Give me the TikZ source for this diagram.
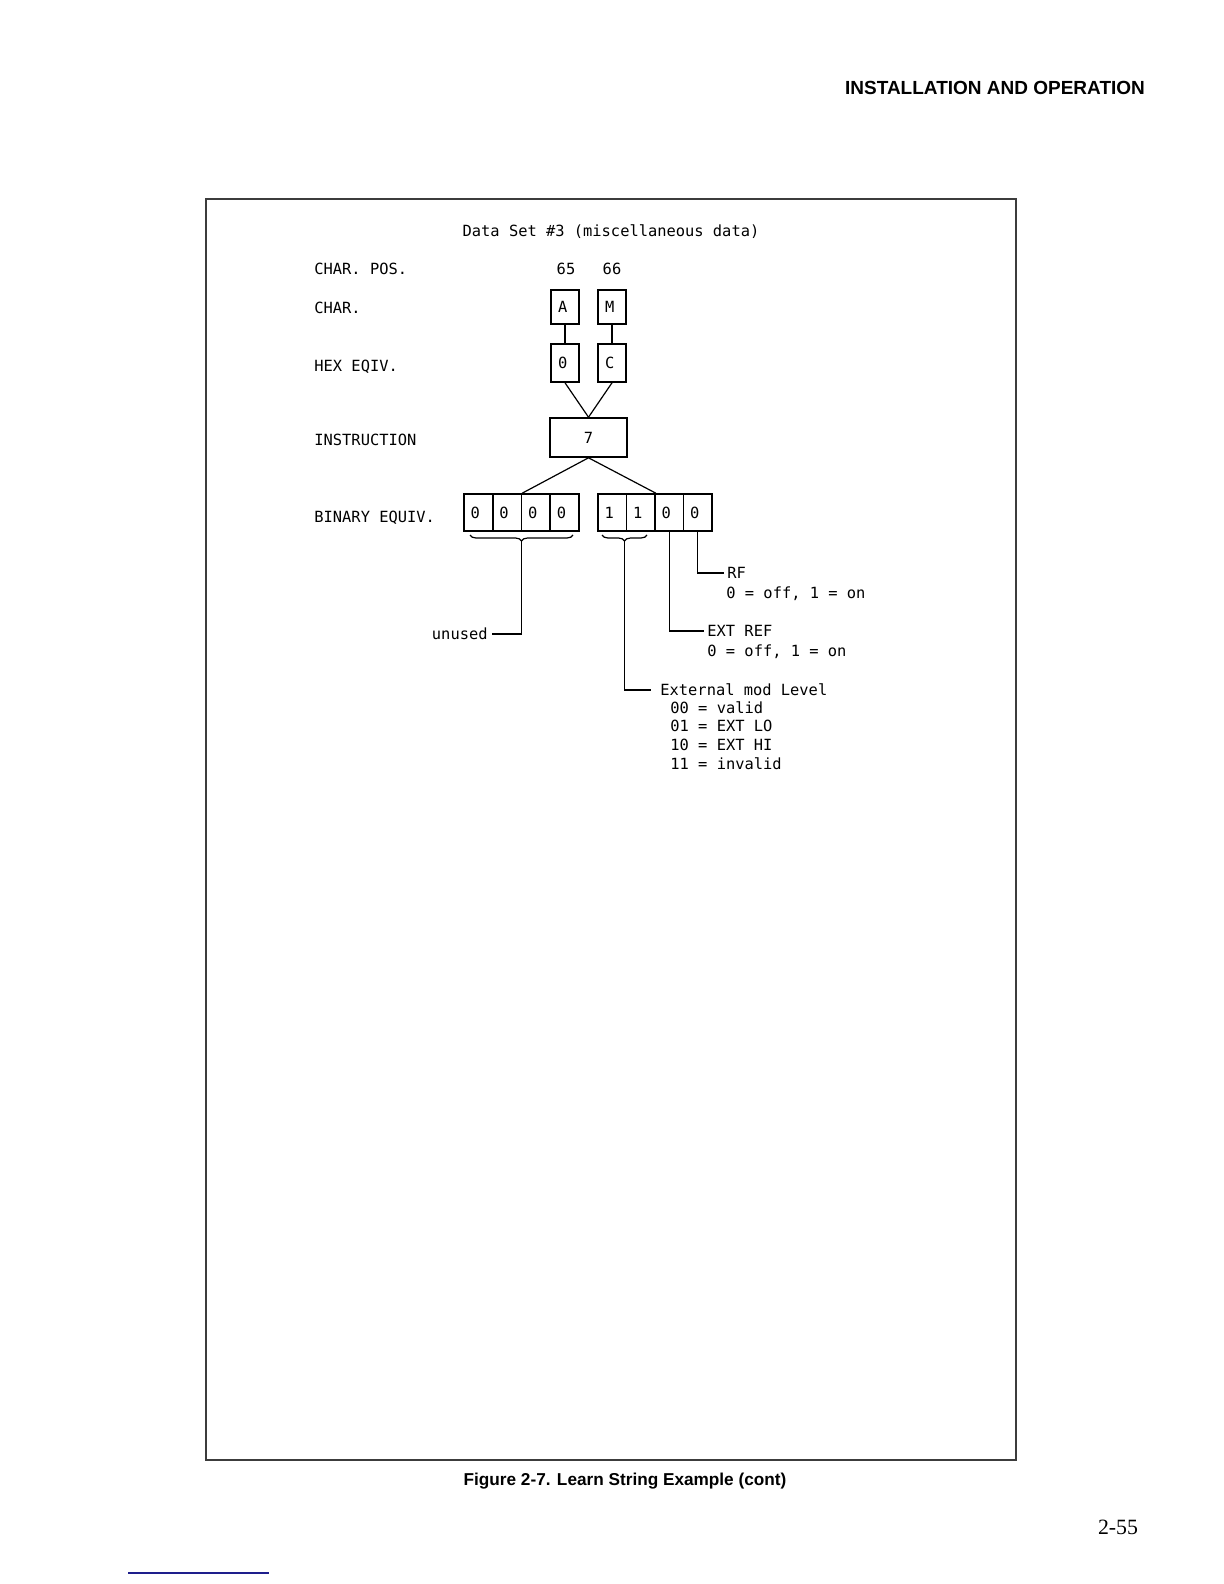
\documentclass[tikz,border=0pt]{standalone}
\usepackage{fontspec}
\setmainfont{Liberation Serif}
\newfontfamily\monofont{DejaVu Sans Mono}
\newfontfamily\headfont{Liberation Sans}
\usetikzlibrary{decorations.pathreplacing,calc}
\definecolor{rulebl}{RGB}{30,30,140}
\definecolor{framegr}{RGB}{60,60,60}
\begin{document}
\begin{tikzpicture}[x=0.5pt,y=-0.5pt,
  mono/.style={font=\monofont\fontsize{7.7pt}{9pt}\selectfont, inner sep=0pt, text height=5.6pt, text depth=0pt},
  sbox/.style={draw, line width=0.8pt, mono, inner xsep=3.5pt, inner ysep=0pt, align=left},
  conn/.style={line width=0.6pt},
  bracestyle/.style={line width=0.6pt, decorate, decoration={brace, mirror, amplitude=3pt}}]
\useasboundingbox (0,0) rectangle (1224,1584);
\fill[white] (0,0) rectangle (1224,1584);

% page furniture
\node[font=\headfont\bfseries\fontsize{9.5pt}{11pt}\selectfont, inner sep=0pt] (head) at (995,88) {INSTALLATION AND OPERATION};
\draw[line width=0.8pt, framegr] (206,199) rectangle (1016,1460);
\node[font=\headfont\bfseries\fontsize{8.6pt}{10pt}\selectfont, inner sep=0pt] (cap) at (625,1481) {Figure 2-7. Learn String Example (cont)};
\node[font=\fontsize{10.9pt}{12pt}\selectfont, inner sep=0pt] (pg) at (1118,1527) {2-55};
\coordinate (bl1) at (128,1573);
\coordinate (bl2) at (269,1573);
\draw[line width=1pt, rulebl] (bl1) -- (bl2);

% title and row labels
\node[mono] (title) at (611,231) {Data Set \#3 (miscellaneous data)};
\node[mono, anchor=west] (lpos) at (314,269) {CHAR. POS.};
\node[mono, anchor=west] (lchar) at (314,308) {CHAR.};
\node[mono, anchor=west] (lhex) at (314,366) {HEX EQIV.};
\node[mono, anchor=west] (linst) at (314,440) {INSTRUCTION};
\node[mono, anchor=west] (lbin) at (314,517) {BINARY EQUIV.};

% positions and boxes
\node[mono] (p65) at (566,269) {65};
\node[mono] (p66) at (612,269) {66};
\node[sbox, text width=7pt, minimum height=17pt] (cA) at (565,307) {A};
\node[sbox, text width=7pt, minimum height=17pt] (cM) at (612,307) {M};
\node[sbox, text width=7pt, minimum height=19pt] (h0) at (565,363) {0};
\node[sbox, text width=7pt, minimum height=19pt] (hC) at (612,363) {C};
\node[draw, line width=0.8pt, mono, minimum width=38.5pt, minimum height=19.5pt] (i7) at (588.5,437.5) {7};

\foreach \i/\x/\d in {1/478.4/0, 2/507.1/0, 3/535.9/0, 4/564.6/0, 5/612.25/1, 6/640.75/1, 7/669.25/0, 8/697.75/0}
  \node[sbox, text width=7.7pt, minimum height=18.5pt, inner xsep=3.3pt] (b\i) at (\x,512.5) {\d};

% connectors
\draw[conn] (cA.south) -- (h0.north);
\draw[conn] (cM.south) -- (hC.north);
\draw[conn] (h0.south) -- (i7.north);
\draw[conn] (hC.south) -- (i7.north);
\draw[conn] (i7.south) -- (b2.north east);
\draw[conn] (i7.south) -- (b6.north east);

% braces
\draw[bracestyle] (470,535) -- (573,535);
\draw[bracestyle] (602,535) -- (647,535);
\coordinate (ut) at (521.5,541);
\coordinate (mt) at (624.5,541);

% annotations
\node[mono, anchor=east, inner xsep=2pt] (unused) at (492,634) {unused};
\draw[conn] (ut) |- (unused.east);

\node[mono, anchor=west, inner xsep=4.5pt] (extmod) at (651,690) {External mod Level};
\draw[conn] (mt) |- (extmod.west);
\node[mono, anchor=west] (v00) at (670,708) {00 = valid};
\node[mono, anchor=west] (v01) at (670,726) {01 = EXT LO};
\node[mono, anchor=west] (v10) at (670,745) {10 = EXT HI};
\node[mono, anchor=west] (v11) at (670,764) {11 = invalid};

\node[mono, anchor=west, inner xsep=1.5pt] (extref) at (704,631) {EXT REF};
\draw[conn] (b7.south) |- (extref.west);
\node[mono, anchor=west] (extrefv) at (707,651) {0 = off, 1 = on};

\node[mono, anchor=west, inner xsep=1.5pt] (rf) at (724,573) {RF};
\draw[conn] (b8.south) |- (rf.west);
\node[mono, anchor=west] (rfv) at (726,593) {0 = off, 1 = on};
\end{tikzpicture}
\end{document}
